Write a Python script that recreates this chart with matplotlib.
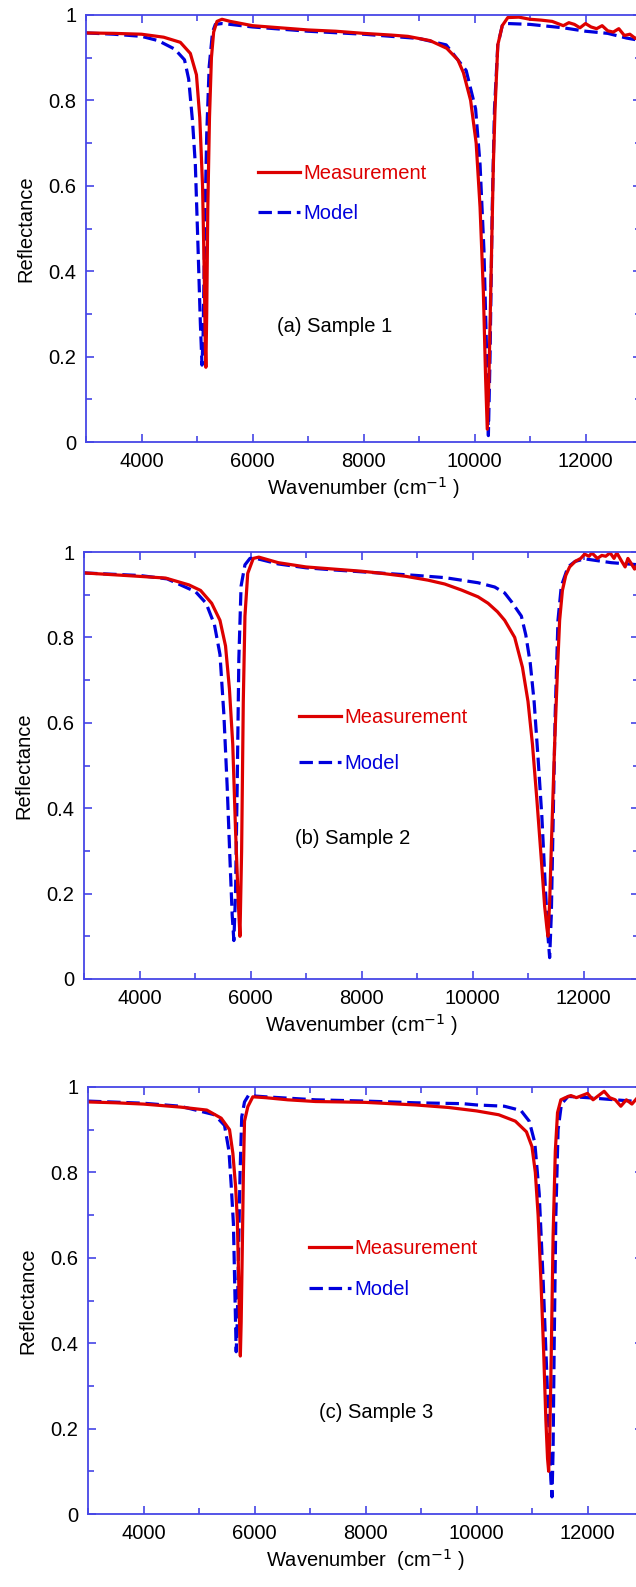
import numpy as np
import matplotlib
matplotlib.use('Agg')
import matplotlib.pyplot as plt
from matplotlib.ticker import MultipleLocator, FuncFormatter
from matplotlib.lines import Line2D

plt.rcParams['font.family'] = ['Liberation Sans', 'DejaVu Sans']

# (a) Sample 1
meas_a_x = [3000, 3500, 4000, 4400, 4700, 4880, 4990, 5050, 5100, 5130, 5150, 5160, 5175, 5195, 5225, 5260, 5300,
            5360, 5450, 5600, 6000, 6500, 7000, 7500, 8000, 8500, 8800, 9200, 9500, 9700, 9800, 9930, 10030, 10100,
            10160, 10200, 10230, 10260, 10300, 10340, 10370, 10420, 10500, 10600, 10800, 11000, 11200, 11400, 11600,
            11700, 11800, 11900, 12000, 12100, 12200, 12300, 12400, 12500, 12600, 12700, 12800, 12900, 13000]
meas_a_y = [0.958, 0.957, 0.955, 0.948, 0.936, 0.91, 0.86, 0.76, 0.60, 0.40, 0.22, 0.175, 0.30, 0.55, 0.76, 0.90,
            0.96, 0.985, 0.99, 0.985, 0.975, 0.97, 0.965, 0.962, 0.957, 0.953, 0.95, 0.94, 0.922, 0.895, 0.865, 0.80,
            0.70, 0.55, 0.35, 0.15, 0.03, 0.15, 0.40, 0.65, 0.78, 0.93, 0.975, 0.994, 0.995, 0.99, 0.988, 0.985,
            0.975, 0.982, 0.978, 0.97, 0.98, 0.972, 0.968, 0.975, 0.963, 0.96, 0.968, 0.952, 0.955, 0.945, 0.948]
model_a_x = [3000, 3500, 4000, 4300, 4600, 4775, 4850, 4920, 4970, 5020, 5060, 5090, 5110, 5140, 5175, 5220, 5280,
             5330, 5450, 5600, 6000, 7000, 8000, 9000, 9490, 9850, 10020, 10100, 10170, 10220, 10250, 10280, 10320,
             10360, 10420, 10500, 10600, 11000, 11600, 12000, 12400, 12740, 13000]
model_a_y = [0.958, 0.955, 0.95, 0.94, 0.92, 0.895, 0.85, 0.75, 0.65, 0.45, 0.28, 0.18, 0.25, 0.50, 0.72, 0.88, 0.96,
             0.978, 0.98, 0.978, 0.972, 0.962, 0.955, 0.945, 0.93, 0.87, 0.78, 0.65, 0.45, 0.20, 0.015, 0.20, 0.55,
             0.78, 0.93, 0.975, 0.98, 0.978, 0.97, 0.962, 0.957, 0.946, 0.94]

# (b) Sample 2
meas_b_x = [3000, 3870, 4470, 4890, 5100, 5300, 5450, 5550, 5620, 5680, 5730, 5780, 5810, 5840, 5870, 5900, 5950,
            6050, 6150, 6500, 7000, 7500, 8000, 8300, 8800, 9200, 9500, 9800, 10100, 10280, 10450, 10580, 10760,
            10900, 11000, 11080, 11160, 11240, 11300, 11340, 11360, 11390, 11430, 11480, 11530, 11570, 11620, 11680,
            11750, 11850, 11950, 12020, 12100, 12150, 12250, 12330, 12400, 12480, 12550, 12600, 12680, 12750, 12800,
            12850, 12920, 13000]
meas_b_y = [0.951, 0.944, 0.939, 0.923, 0.91, 0.88, 0.84, 0.78, 0.68, 0.55, 0.35, 0.18, 0.10, 0.30, 0.65, 0.85, 0.95,
            0.985, 0.988, 0.975, 0.965, 0.96, 0.955, 0.951, 0.943, 0.934, 0.925, 0.911, 0.895, 0.88, 0.86, 0.84, 0.80,
            0.73, 0.65, 0.55, 0.42, 0.28, 0.17, 0.12, 0.10, 0.18, 0.35, 0.55, 0.72, 0.84, 0.91, 0.945, 0.965, 0.978,
            0.985, 0.995, 0.99, 0.998, 0.985, 0.992, 0.99, 0.998, 0.985, 0.998, 0.98, 0.965, 0.985, 0.975, 0.96,
            0.975]
model_b_x = [3000, 4000, 4500, 5010, 5200, 5350, 5450, 5520, 5580, 5630, 5670, 5700, 5730, 5760, 5790, 5830, 5900,
             5990, 6100, 6500, 7000, 7500, 8300, 9000, 9500, 10100, 10400, 10580, 10700, 10880, 10960, 11040, 11110,
             11180, 11250, 11310, 11360, 11390, 11420, 11450, 11490, 11540, 11600, 11720, 11850, 12020, 12500, 13000]
model_b_y = [0.951, 0.945, 0.937, 0.907, 0.88, 0.83, 0.76, 0.62, 0.45, 0.28, 0.15, 0.09, 0.20, 0.45, 0.75, 0.92,
             0.97, 0.985, 0.985, 0.972, 0.963, 0.958, 0.951, 0.945, 0.94, 0.928, 0.918, 0.904, 0.884, 0.85, 0.806,
             0.74, 0.65, 0.52, 0.38, 0.22, 0.10, 0.05, 0.15, 0.35, 0.62, 0.84, 0.92, 0.965, 0.978, 0.984, 0.975, 0.97]

# (c) Sample 3
meas_c_x = [3000, 3500, 4000, 4660, 5140, 5400, 5550, 5610, 5660, 5690, 5715, 5735, 5745, 5760, 5780, 5800, 5820,
            5880, 5970, 6200, 6600, 7100, 8000, 8900, 9500, 10000, 10400, 10700, 10900, 11000, 11060, 11110, 11160,
            11210, 11250, 11280, 11300, 11320, 11350, 11380, 11420, 11460, 11520, 11600, 11700, 11800, 11900, 12000,
            12100, 12200, 12300, 12400, 12500, 12600, 12700, 12800, 12900, 13000]
meas_c_y = [0.965, 0.963, 0.96, 0.953, 0.946, 0.927, 0.90, 0.845, 0.766, 0.69, 0.55, 0.42, 0.37, 0.45, 0.62, 0.80,
            0.92, 0.954, 0.977, 0.975, 0.97, 0.966, 0.964, 0.958, 0.952, 0.944, 0.935, 0.92, 0.895, 0.86, 0.80, 0.70,
            0.55, 0.38, 0.22, 0.13, 0.10, 0.18, 0.40, 0.65, 0.85, 0.94, 0.97, 0.975, 0.98, 0.975, 0.98, 0.985, 0.97,
            0.98, 0.99, 0.975, 0.97, 0.955, 0.97, 0.96, 0.975, 0.97]
model_c_x = [3000, 4000, 4660, 5280, 5460, 5540, 5580, 5620, 5650, 5670, 5690, 5710, 5740, 5770, 5820, 5890, 6200,
             7100, 8000, 8900, 9750, 10000, 10500, 10800, 10950, 11050, 11130, 11200, 11260, 11310, 11340, 11360,
             11380, 11400, 11430, 11470, 11530, 11650, 12000, 12500, 13000]
model_c_y = [0.967, 0.962, 0.955, 0.935, 0.91, 0.85, 0.77, 0.68, 0.50, 0.38, 0.45, 0.60, 0.80, 0.93, 0.965, 0.98,
             0.977, 0.97, 0.967, 0.963, 0.961, 0.958, 0.955, 0.945, 0.92, 0.87, 0.75, 0.55, 0.35, 0.18, 0.08, 0.04,
             0.15, 0.40, 0.70, 0.90, 0.96, 0.978, 0.975, 0.97, 0.965]

panel_labels = ['(a) Sample 1', '(b) Sample 2', '(c) Sample 3']
xlabels = ['Wavenumber (cm$^{-1}$ )', 'Wavenumber (cm$^{-1}$ )', 'Wavenumber  (cm$^{-1}$ )']

red = '#dd0000'
blue = '#0000dd'
axcol = '#4646e6'
fs = 14.5
dash = (0, (4.2, 1.8))

fig = plt.figure(figsize=(6.36, 15.87), dpi=100)
W, H = 636.0, 1587.0
boxes = [(86, 15), (84, 552), (88, 1087)]
legend_pos = [(0.31, 0.65), (0.387, 0.635), (0.398, 0.645)]
legend_gap = [1.0, 1.35, 1.1]
text_pos = [(6440, 0.27), (6800, 0.33), (7170, 0.237)]

series = [(meas_a_x, meas_a_y, model_a_x, model_a_y),
          (meas_b_x, meas_b_y, model_b_x, model_b_y),
          (meas_c_x, meas_c_y, model_c_x, model_c_y)]

for i, (mx, my, dx, dy) in enumerate(series):
    left, top = boxes[i]
    ax = fig.add_axes([left / W, 1 - (top + 427) / H, 555 / W, 427 / H])
    ax.plot(dx, dy, color=blue, lw=2.3, ls=dash)
    ax.plot(mx, my, color=red, lw=2.3)
    ax.set_xlim(3000, 13000)
    ax.set_ylim(0, 1)
    ax.xaxis.set_major_locator(MultipleLocator(2000))
    ax.xaxis.set_minor_locator(MultipleLocator(1000))
    ax.yaxis.set_major_locator(MultipleLocator(0.2))
    ax.yaxis.set_minor_locator(MultipleLocator(0.1))
    ax.yaxis.set_major_formatter(FuncFormatter(lambda v, p: '%g' % round(v, 2)))
    ax.xaxis.set_major_formatter(FuncFormatter(lambda v, p: '' if v in (3000, 13000) else '%d' % v))
    ax.tick_params(which='both', direction='in', top=True, right=True, color=axcol,
                   labelsize=fs, width=1.2)
    ax.tick_params(which='major', length=6, pad=7)
    ax.tick_params(which='minor', length=4)
    for s in ax.spines.values():
        s.set_color(axcol)
        s.set_linewidth(1.3)
    ax.set_ylabel('Reflectance', fontsize=fs, labelpad=9)
    ax.set_xlabel(xlabels[i], fontsize=fs, labelpad=3)
    handles = [Line2D([], [], color=red, lw=2.3),
               Line2D([], [], color=blue, lw=2.3, ls=dash)]
    ax.legend(handles, ['Measurement', 'Model'], loc='upper left', bbox_to_anchor=legend_pos[i],
              frameon=False, fontsize=fs, labelcolor=[red, blue], handlelength=2.1,
              handletextpad=0.15, labelspacing=legend_gap[i], borderpad=0, borderaxespad=0)
    ax.text(text_pos[i][0], text_pos[i][1], panel_labels[i], fontsize=fs, va='center', ha='left')

fig.savefig('out.png', dpi=100)
